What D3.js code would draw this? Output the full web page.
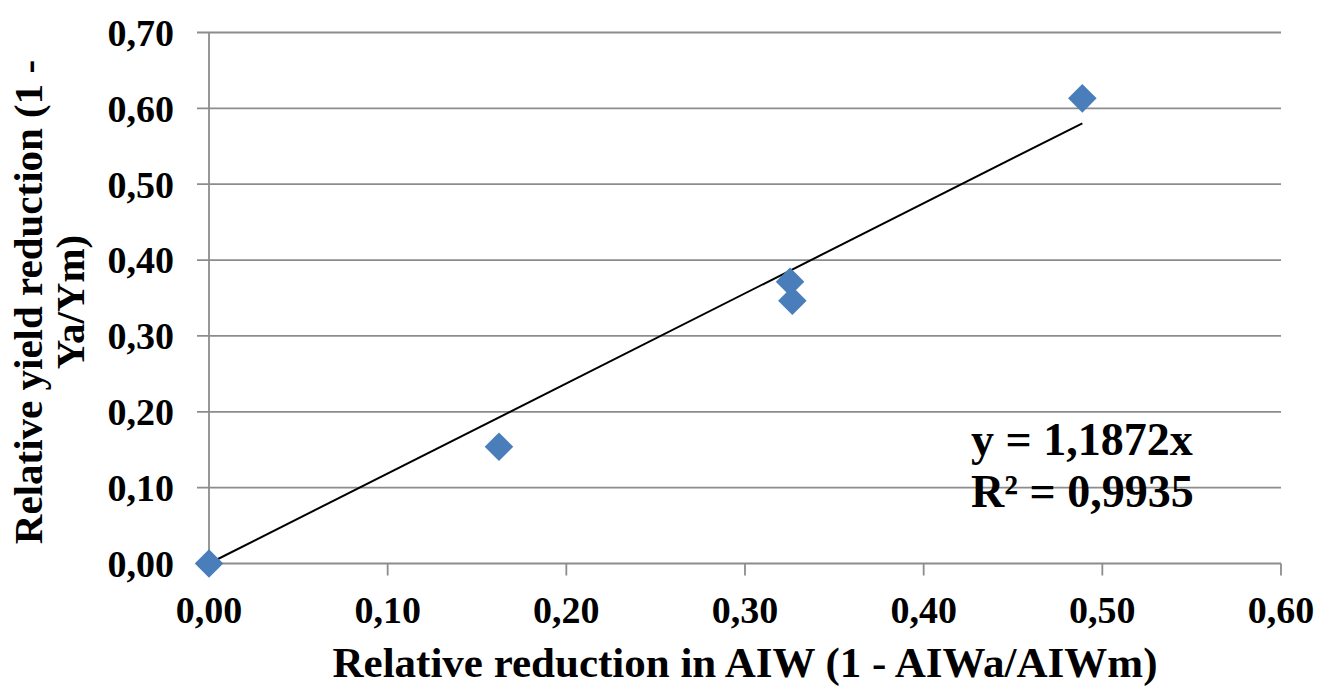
<!DOCTYPE html>
<html>
<head>
<meta charset="utf-8">
<script src="https://cdn.jsdelivr.net/npm/d3@7/dist/d3.min.js"></script>
<style>
  html, body { margin: 0; padding: 0; background: #fff; }
  svg { display: block; }
  text { font-family: "Liberation Serif", "Times New Roman", serif; font-weight: bold; fill: #000; }
</style>
</head>
<body>
<svg id="chart" width="1317" height="691"></svg>
<script>
// Data
const xValues = [0.0, 0.1623, 0.3252, 0.3265, 0.4888];
const yValues = [0.0, 0.154, 0.3715, 0.3464, 0.6132];
const slope = 1.1872;
const equationLines = ["y = 1,1872x", "R\u00B2 = 0,9935"];
const xTicks = [0, 0.1, 0.2, 0.3, 0.4, 0.5, 0.6];
const yTicks = [0, 0.1, 0.2, 0.3, 0.4, 0.5, 0.6, 0.7];
const xTitle = "Relative reduction in AIW (1 - AIWa/AIWm)";
const yTitleLines = ["Relative yield reduction (1 -", "Ya/Ym)"];

(function () {
const svg = d3.select("#chart");
const pL = 209, pR = 1281, pT = 32.5, pB = 563.5;
const x = d3.scaleLinear().domain([0, 0.6]).range([pL, pR]);
const y = d3.scaleLinear().domain([0, 0.7]).range([pB, pT]);
const fmt = d => d3.format(".2f")(d).replace(".", ",");
const gridColor = "#8c8c8c";

// horizontal gridlines (with small tick extension to the left)
svg.append("g").selectAll("line").data(yTicks).join("line")
  .attr("x1", pL - 12).attr("x2", pR)
  .attr("y1", d => y(d)).attr("y2", d => y(d))
  .attr("stroke", gridColor).attr("stroke-width", 1.8);

// y axis line
svg.append("line").attr("x1", pL).attr("x2", pL).attr("y1", pT).attr("y2", pB)
  .attr("stroke", gridColor).attr("stroke-width", 1.8);

// x ticks
svg.append("g").selectAll("line").data(xTicks).join("line")
  .attr("x1", d => x(d)).attr("x2", d => x(d))
  .attr("y1", pB).attr("y2", pB + 12)
  .attr("stroke", gridColor).attr("stroke-width", 1.8);

// y tick labels
svg.append("g").selectAll("text").data(yTicks).join("text")
  .attr("x", pL - 35).attr("y", d => y(d))
  .attr("dy", "0.35em")
  .attr("text-anchor", "end")
  .style("font-size", "38px")
  .text(fmt);

// x tick labels
svg.append("g").selectAll("text").data(xTicks).join("text")
  .attr("x", d => x(d)).attr("y", pB + 59)
  .attr("text-anchor", "middle")
  .style("font-size", "38px")
  .text(fmt);

// trendline
const xMax = d3.max(xValues);
svg.append("line")
  .attr("x1", x(0)).attr("y1", y(0))
  .attr("x2", x(xMax)).attr("y2", y(slope * xMax))
  .attr("stroke", "#000").attr("stroke-width", 2);

// points (diamonds)
const pts = xValues.map((v, i) => [v, yValues[i]]);
const sym = d3.symbol().type(d3.symbolDiamond2).size(520);
svg.append("g").selectAll("path").data(pts).join("path")
  .attr("transform", d => `translate(${x(d[0])},${y(d[1])})`)
  .attr("d", sym)
  .attr("fill", "#4a7ebb");

// equation
svg.append("g").selectAll("text").data(equationLines).join("text")
  .attr("x", 971).attr("y", (d, i) => 455 + i * 52)
  .style("font-size", "46px")
  .text(d => d);

// axis titles
svg.append("text")
  .attr("x", 745).attr("y", 677)
  .attr("text-anchor", "middle")
  .style("font-size", "43px")
  .text(xTitle);

svg.append("g").attr("transform", "translate(0,302) rotate(-90)")
  .selectAll("text").data(yTitleLines).join("text")
  .attr("x", 0).attr("y", (d, i) => 42 + i * 42)
  .attr("text-anchor", "middle")
  .style("font-size", "41px")
  .text(d => d);
})();
</script>
</body>
</html>
